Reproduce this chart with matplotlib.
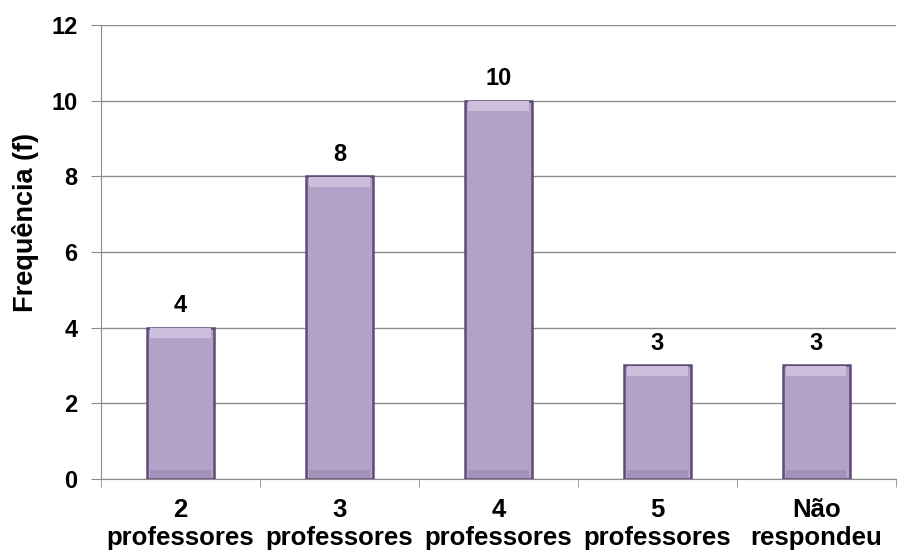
import matplotlib.pyplot as plt
import numpy as np

plt.rcParams['font.family'] = ['Liberation Sans', 'DejaVu Sans']

categories = ['2\nprofessores', '3\nprofessores', '4\nprofessores', '5\nprofessores', 'Não\nrespondeu']
values = [4, 8, 10, 3, 3]

fig = plt.figure(figsize=(8.97, 5.54), dpi=100)
ax = fig.add_axes([0.1126, 0.1354, 0.886, 0.8195])

x = np.arange(len(categories))
vals = np.array(values)
ax.bar(x, vals, width=0.42, color='#b3a2c7', edgecolor='#5f4b7a', linewidth=1.8, zorder=3)
# light bevel along the top, darker along the bottom
ax.bar(x, 0.25, bottom=vals - 0.27, width=0.38, color='#cbbfdc', linewidth=0, zorder=4)
ax.bar(x, 0.2, bottom=0.03, width=0.38, color='#a291b8', linewidth=0, zorder=4)

for xi, v in zip(x, values):
    ax.text(xi, v + 0.28, str(v), ha='center', va='bottom', fontsize=17, fontweight='bold')

ax.set_xlim(-0.5, len(categories) - 0.5)
ax.set_ylim(0, 12)
ax.set_yticks(range(0, 13, 2))
ax.yaxis.grid(True, color='#8c8c8c', linewidth=1, zorder=0)

ax.set_xticks(x)
ax.set_xticklabels(categories, fontsize=18.5, fontweight='bold', linespacing=1.2)
ax.set_xticks(np.arange(-0.5, len(categories), 1), minor=True)
ax.tick_params(axis='x', which='major', length=0, pad=14)
ax.tick_params(axis='x', which='minor', length=6, color='#8c8c8c', direction='out')
ax.tick_params(axis='y', length=7, color='#8c8c8c', direction='out', labelsize=17, pad=10)
for lbl in ax.get_yticklabels():
    lbl.set_fontweight('bold')

ax.set_ylabel('Frequência (f)', fontsize=19.5, fontweight='bold')
ax.yaxis.set_label_coords(-0.078, 0.566)

for side in ['top', 'right']:
    ax.spines[side].set_visible(False)
for side in ['left', 'bottom']:
    ax.spines[side].set_color('#8c8c8c')

fig.savefig('out.png', dpi=100)
